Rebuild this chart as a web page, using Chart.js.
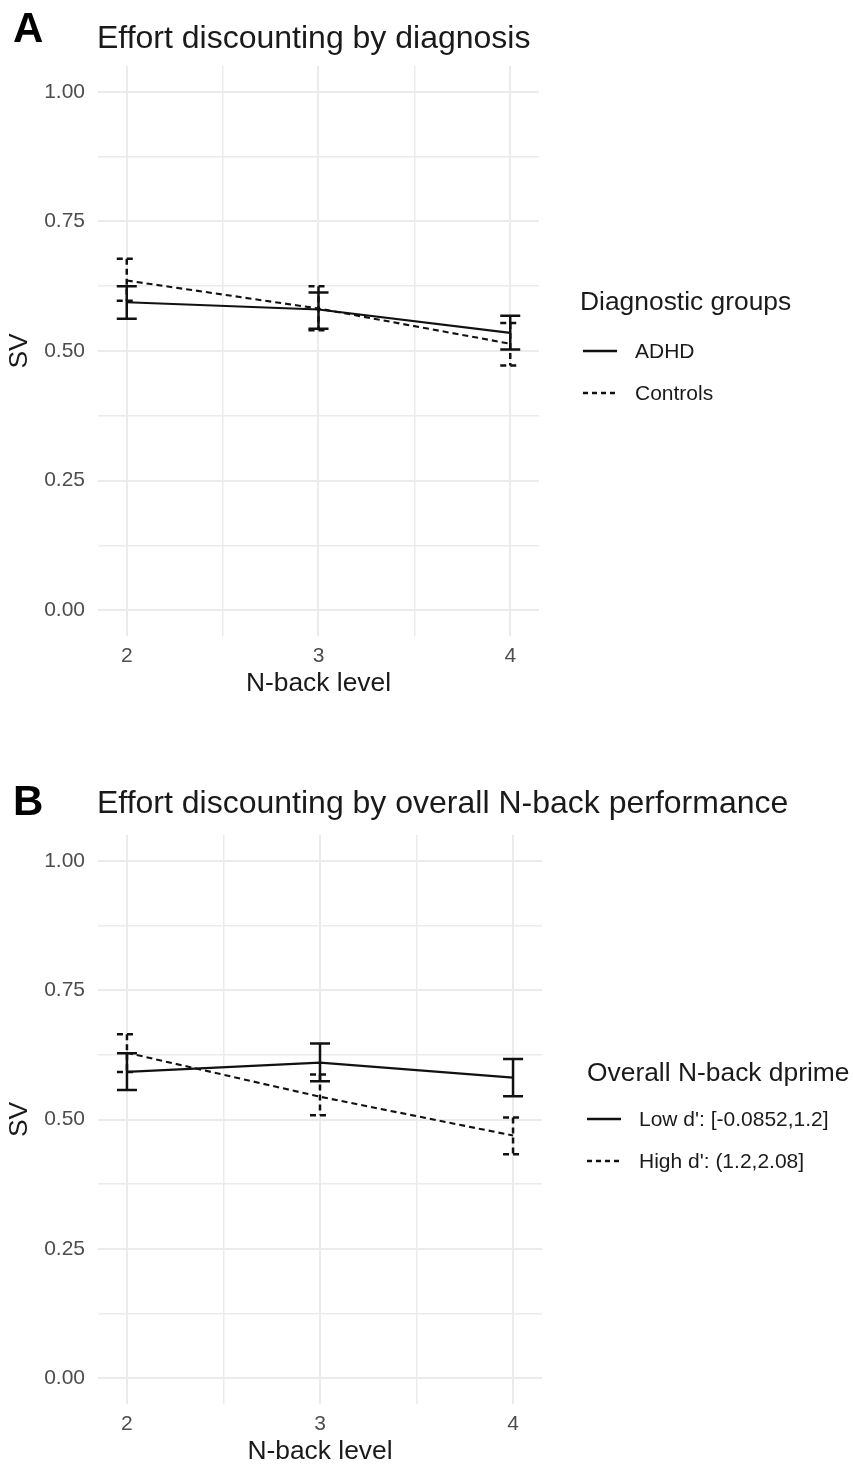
<!DOCTYPE html>
<html>
<head>
<meta charset="utf-8">
<script src="https://cdn.jsdelivr.net/npm/chart.js@4/dist/chart.umd.min.js"></script>
<style>
  html, body { margin: 0; padding: 0; background: #fff; width: 853px; height: 1468px; overflow: hidden; }
  .panel { position: absolute; left: 0; }
</style>
</head>
<body>
<div class="panel" style="top:0"><canvas id="chartA" width="853" height="750"></canvas></div>
<div class="panel" style="top:750px"><canvas id="chartB" width="853" height="718"></canvas></div>
<script>
/* global Chart */

// N-back levels and axis ticks
const levels = [2, 3, 4];
const xTicks = [2, 2.5, 3, 3.5, 4];
const yTicks = [0, 0.125, 0.25, 0.375, 0.5, 0.625, 0.75, 0.875, 1];
const yLabelled = [0, 0.25, 0.5, 0.75, 1];

// Panel A: by diagnosis (mean SV and error bar ends)
const adhdMean = [0.594, 0.580, 0.535];
const adhdLo = [0.562, 0.543, 0.503];
const adhdHi = [0.625, 0.613, 0.568];
const ctrlMean = [0.636, 0.582, 0.514];
const ctrlLo = [0.597, 0.540, 0.472];
const ctrlHi = [0.678, 0.625, 0.554];

// Panel B: by overall N-back dprime
const lowMean = [0.592, 0.610, 0.581];
const lowLo = [0.557, 0.574, 0.545];
const lowHi = [0.628, 0.647, 0.617];
const highMean = [0.629, 0.544, 0.469];
const highLo = [0.592, 0.508, 0.433];
const highHi = [0.665, 0.587, 0.504];

const FONT = '"Liberation Sans", Arial, Helvetica, sans-serif';
const GRID = '#ebebeb';
const DASH = [6, 4];

function series(label, mean, lo, hi, dashed) {
  return {
    label,
    data: levels.map((l, i) => ({ x: l, y: mean[i] })),
    errLo: lo,
    errHi: hi,
    borderColor: '#111',
    borderWidth: 2.1,
    borderDash: dashed ? DASH : [],
    pointRadius: 0,
    tension: 0,
    fill: false
  };
}

// error bars drawn from the dataset's lo/hi arrays via the chart scales
const errorBarsPlugin = {
  id: 'errorBars',
  afterDatasetsDraw(chart) {
    const { ctx } = chart;
    const xs = chart.scales.x;
    const ys = chart.scales.y;
    const cap = 10;
    ctx.save();
    chart.data.datasets.forEach(ds => {
      ctx.strokeStyle = '#111';
      ctx.lineWidth = 2.5;
      ctx.setLineDash(ds.borderDash || []);
      ds.data.forEach((p, i) => {
        const px = xs.getPixelForValue(p.x);
        const top = ys.getPixelForValue(ds.errHi[i]);
        const bot = ys.getPixelForValue(ds.errLo[i]);
        ctx.beginPath();
        ctx.moveTo(px - cap, top); ctx.lineTo(px + cap, top);
        ctx.moveTo(px, top); ctx.lineTo(px, bot);
        ctx.moveTo(px - cap, bot); ctx.lineTo(px + cap, bot);
        ctx.stroke();
      });
    });
    ctx.restore();
  }
};

// panel letter, title and the legend on the right
const panelTextPlugin = {
  id: 'panelText',
  afterDraw(chart, args, o) {
    const ctx = chart.ctx;
    ctx.save();
    ctx.fillStyle = '#000';
    ctx.textBaseline = 'alphabetic';
    ctx.font = `bold 42px ${FONT}`;
    ctx.fillText(o.letter, 13, o.letterY);
    ctx.fillStyle = '#1a1a1a';
    ctx.font = `32px ${FONT}`;
    ctx.fillText(o.title, 97, o.titleY);

    ctx.font = `26.4px ${FONT}`;
    ctx.fillText(o.legendTitle, o.legendX, o.legendTitleY);
    ctx.font = `21px ${FONT}`;
    chart.data.datasets.forEach((ds, i) => {
      const y = o.legendY0 + i * 42;
      ctx.beginPath();
      ctx.setLineDash(ds.borderDash && ds.borderDash.length ? [5, 4] : []);
      ctx.lineWidth = 2.3;
      ctx.strokeStyle = '#111';
      ctx.moveTo(o.keyX, y);
      ctx.lineTo(o.keyX + 34, y);
      ctx.stroke();
      ctx.setLineDash([]);
      ctx.textBaseline = 'middle';
      ctx.fillText(ds.label, o.keyX + 52, y + 1);
    });
    ctx.restore();
  }
};

function makePanel(id, datasets, pad, text) {
  return new Chart(document.getElementById(id), {
    type: 'line',
    data: { datasets },
    options: {
      responsive: false,
      animation: false,
      layout: { padding: pad },
      scales: {
        x: {
          type: 'linear',
          min: 1.85,
          max: 4.15,
          afterBuildTicks: s => { s.ticks = xTicks.map(v => ({ value: v })); },
          afterFit: s => { s.height = 64; },
          ticks: {
            autoSkip: false,
            maxRotation: 0,
            padding: 8,
            color: '#4d4d4d',
            font: { family: FONT, size: 21 },
            callback: v => (Number.isInteger(v) ? String(v) : '')
          },
          grid: {
            color: GRID,
            drawTicks: false,
            lineWidth: c => (c.tick && Number.isInteger(c.tick.value) ? 2 : 1.5)
          },
          border: { display: false },
          title: {
            display: true,
            text: 'N-back level',
            color: '#1a1a1a',
            font: { family: FONT, size: 26.4 },
            padding: { top: 0, bottom: 0 }
          }
        },
        y: {
          min: -0.05,
          max: 1.05,
          afterBuildTicks: s => { s.ticks = yTicks.map(v => ({ value: v })); },
          afterFit: s => { s.width = 98; },
          ticks: {
            autoSkip: false,
            padding: 13,
            color: '#4d4d4d',
            font: { family: FONT, size: 21 },
            callback: v => (yLabelled.includes(v) ? v.toFixed(2) : '')
          },
          grid: {
            color: GRID,
            drawTicks: false,
            lineWidth: c => (c.tick && yLabelled.includes(c.tick.value) ? 2 : 1.5)
          },
          border: { display: false },
          title: {
            display: true,
            text: 'SV',
            color: '#1a1a1a',
            font: { family: FONT, size: 26.4 },
            padding: { top: 4, bottom: 0 }
          }
        }
      },
      plugins: {
        legend: { display: false },
        tooltip: { enabled: false },
        panelText: text
      }
    },
    plugins: [errorBarsPlugin, panelTextPlugin]
  });
}

makePanel('chartA', [
  series('ADHD', adhdMean, adhdLo, adhdHi, false),
  series('Controls', ctrlMean, ctrlLo, ctrlHi, true)
], { top: 66, right: 314, bottom: 50, left: 0 }, {
  letter: 'A', letterY: 42,
  title: 'Effort discounting by diagnosis', titleY: 48,
  legendTitle: 'Diagnostic groups', legendX: 580, legendTitleY: 310,
  keyX: 583, legendY0: 351
});

makePanel('chartB', [
  series("Low d': [-0.0852,1.2]", lowMean, lowLo, lowHi, false),
  series("High d': (1.2,2.08]", highMean, highLo, highHi, true)
], { top: 85, right: 311, bottom: 0, left: 0 }, {
  letter: 'B', letterY: 65,
  title: 'Effort discounting by overall N-back performance', titleY: 63,
  legendTitle: 'Overall N-back dprime', legendX: 587, legendTitleY: 331,
  keyX: 587, legendY0: 369
});
</script>
</body>
</html>
